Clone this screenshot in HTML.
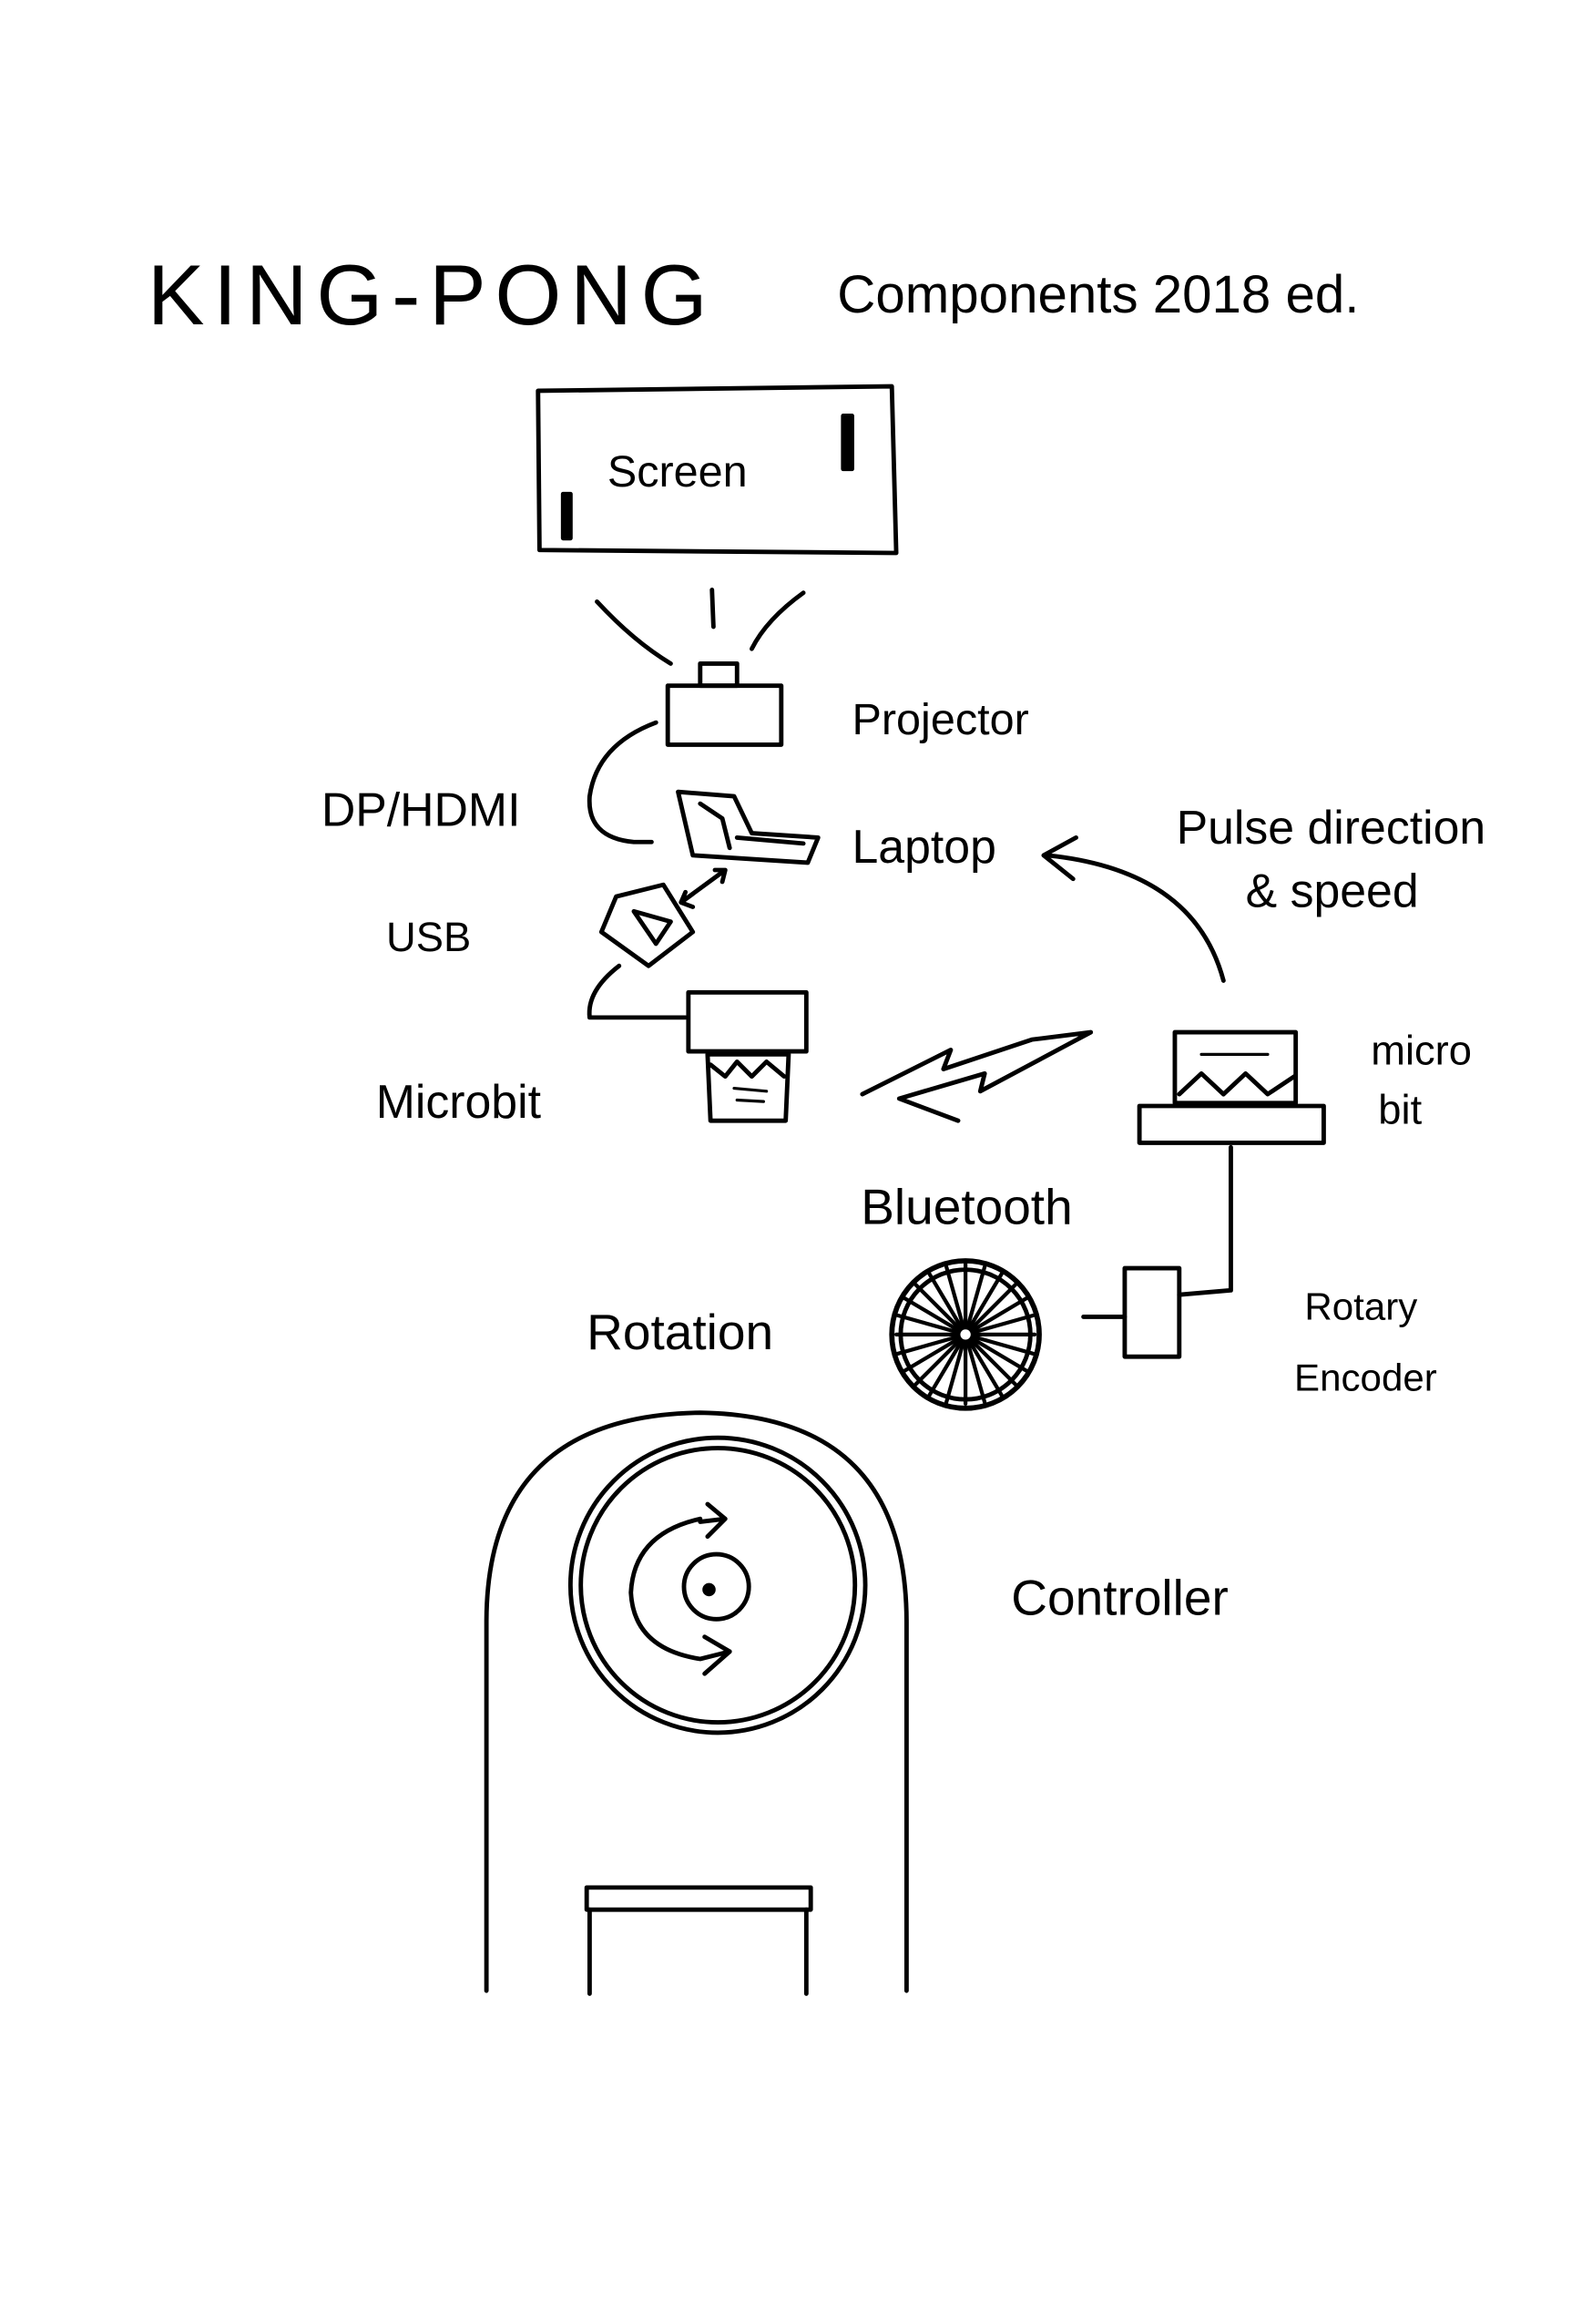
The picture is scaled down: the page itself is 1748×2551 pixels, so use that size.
<!DOCTYPE html>
<html><head><meta charset="utf-8"><style>
html,body{margin:0;padding:0;background:#fff;}
svg{display:block}
text{font-family:"Liberation Sans",sans-serif;fill:#000;}
</style></head><body>
<svg width="1748" height="2551" viewBox="0 0 1080 1576" preserveAspectRatio="none" xmlns="http://www.w3.org/2000/svg">
<g fill="none" stroke="#000" stroke-width="3" stroke-linecap="round" stroke-linejoin="round">
<path d="M365 265 L605 262 L608 375 L366 373 Z"/>
<rect x="382" y="335" width="5" height="30" fill="#000"/>
<rect x="572" y="282" width="6" height="36" fill="#000"/>
<path d="M405 408 Q430 435 455 450"/>
<path d="M483 400 L484 425"/>
<path d="M545 402 Q520 420 510 440"/>
<rect x="453" y="465" width="77" height="40"/>
<rect x="475" y="450" width="25" height="15"/>
<path d="M445 490 Q405 505 400 540 Q398 568 430 571 L442 571"/>
<path d="M460 537 L498 540 L510 565 L555 568 L548 585 L470 580 Z"/>
<path d="M475 545 L490 555 L495 575 M500 568 L545 572"/>
<path d="M418 608 L450 600 L470 632 L440 655 L408 632 Z"/>
<path d="M430 618 L455 625 L445 640 Z"/>
<path d="M462 612 L492 590 M485 590 L492 590 L490 598 M470 615 L462 612 L465 605"/>
<path d="M420 655 Q398 672 400 690 L465 690"/>
<rect x="467" y="673" width="80" height="40"/>
<path d="M480 715 L535 715 L533 760 L482 760 Z"/>
<path d="M482 722 L492 730 L500 720 L510 730 L520 720 L532 730"/>
<path d="M498 738 L520 740 M500 746 L518 747" stroke-width="2"/>
<path d="M585 742 L645 712 L640 725 L700 705 L740 700 L665 740 L668 728 L610 745 L650 760"/>
<rect x="797" y="700" width="82" height="48"/>
<path d="M800 742 L815 728 L830 742 L845 728 L860 742 L878 730"/>
<path d="M815 715 L860 715" stroke-width="2"/>
<rect x="773" y="750" width="125" height="25"/>
<path d="M830 665 Q810 590 710 580"/>
<path d="M730 568 L708 580 L728 596"/>
<path d="M835 778 L835 875 L800 878"/>
<rect x="763" y="860" width="37" height="60"/>
<path d="M735 893 L763 893"/>
<circle cx="655" cy="905" r="50" stroke-width="3.5"/>
<circle cx="655" cy="905" r="44"/>
<g stroke-width="2.6">
<path d="M655 905 L655 857 M655 905 L680 863 M655 905 L697 880 M655 905 L702 905 M655 905 L697 930 M655 905 L680 947 M655 905 L655 952 M655 905 L630 947 M655 905 L613 930 M655 905 L608 905 M655 905 L613 880 M655 905 L630 863"/>
<path d="M655 905 L668 859 M655 905 L690 870 M655 905 L701 892 M655 905 L701 918 M655 905 L690 940 M655 905 L668 951 M655 905 L642 951 M655 905 L620 940 M655 905 L609 918 M655 905 L609 892 M655 905 L620 870 M655 905 L642 859"/>
</g>
<circle cx="655" cy="905" r="5" fill="#fff"/>
<path d="M330 1350 L330 1100 Q330 960 475 958 Q615 960 615 1100 L615 1350"/>
<circle cx="487" cy="1075" r="100"/>
<circle cx="487" cy="1075" r="93"/>
<circle cx="486" cy="1076" r="22"/>
<circle cx="481" cy="1078" r="3" fill="#000"/>
<path d="M475 1030 Q430 1040 428 1080 Q430 1118 475 1125 L495 1120"/>
<path d="M475 1032 L492 1030 M480 1020 L492 1030 L480 1042"/>
<path d="M478 1110 L495 1120 L478 1135"/>
<path d="M398 1280 L550 1280 L550 1295 L398 1295 Z"/>
<path d="M400 1295 L400 1352 M547 1295 L547 1352"/>
</g>
<g>
<text x="100" y="220" font-size="58" letter-spacing="6" font-weight="400">KING-PONG</text>
<text x="568" y="212" font-size="36">Components 2018 ed.</text>
<text x="412" y="330" font-size="30">Screen</text>
<text x="578" y="498" font-size="30">Projector</text>
<text x="218" y="560" font-size="32">DP/HDMI</text>
<text x="578" y="585" font-size="32">Laptop</text>
<text x="262" y="645" font-size="28">USB</text>
<text x="798" y="572" font-size="32">Pulse direction</text>
<text x="845" y="615" font-size="32">&amp; speed</text>
<text x="255" y="758" font-size="32">Microbit</text>
<text x="930" y="722" font-size="28">micro</text>
<text x="935" y="762" font-size="28">bit</text>
<text x="584" y="830" font-size="34">Bluetooth</text>
<text x="398" y="915" font-size="34">Rotation</text>
<text x="885" y="895" font-size="26">Rotary</text>
<text x="878" y="943" font-size="26">Encoder</text>
<text x="686" y="1095" font-size="34">Controller</text>
</g>
</svg>
</body></html>
